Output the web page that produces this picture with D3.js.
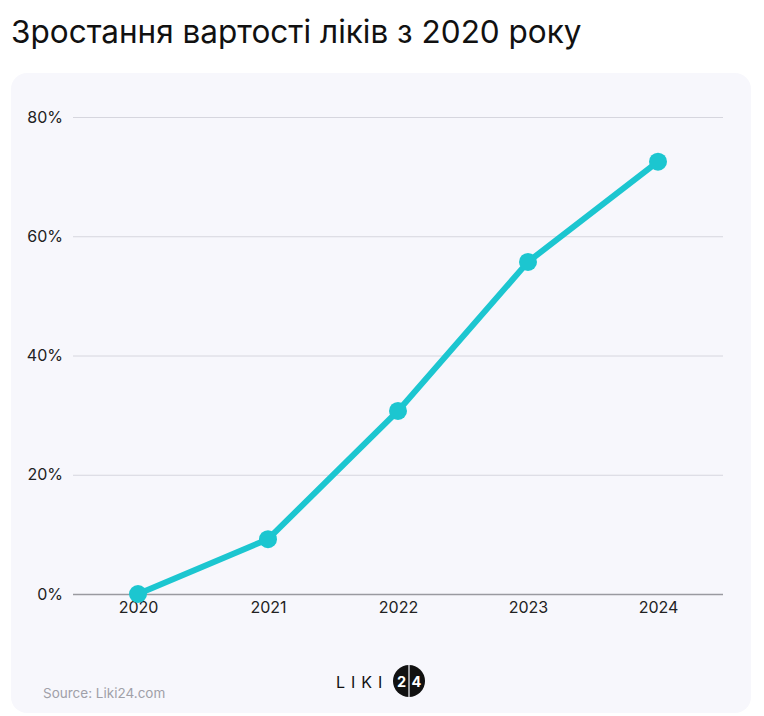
<!DOCTYPE html>
<html>
<head>
<meta charset="utf-8">
<script src="https://cdn.jsdelivr.net/npm/d3@7"></script>
<style>
  body { margin: 0; background: #fff; }
  svg { display: block; font-family: Inter, "Noto Sans", sans-serif; }
</style>
</head>
<body>
<svg id="chart" width="764" height="716"></svg>
<script>
// chart data
var years = ['2020', '2021', '2022', '2023', '2024'];
var growth = [0, 9.2, 30.7, 55.7, 72.5];
var yTicks = [0, 20, 40, 60, 80];

var svg = d3.select('#chart'),
    lineColor = '#1cc6d0',
    margin = {left: 73, right: 40, top: 117, bottom: 122},
    width = 764, height = 716;

// title
svg.append('text')
    .attr('x', 11).attr('y', 43)
    .attr('font-size', 31.5).attr('fill', '#111')
    .text('Зростання вартості ліків з 2020 року');

// card background
svg.append('rect')
    .attr('x', 11).attr('y', 73)
    .attr('width', 740).attr('height', 640)
    .attr('rx', 16)
    .attr('fill', '#f7f7fc');

var x = d3.scalePoint()
    .domain(years)
    .range([margin.left, width - margin.right - 1])
    .padding(0.5);

var y = d3.scaleLinear()
    .domain([0, 80])
    .range([height - margin.bottom, margin.top]);

// gridlines + y labels
var yAxis = svg.append('g')
    .attr('transform', 'translate(' + margin.left + ',0)')
    .call(d3.axisLeft(y).tickValues(yTicks)
        .tickSize(-(width - margin.right - margin.left - 1))
        .tickPadding(10)
        .tickFormat(function (d) { return d + '%'; }));
yAxis.select('.domain').remove();
yAxis.selectAll('.tick line')
    .attr('stroke', function (d) { return d === 0 ? '#9a9aa0' : '#d6d6de'; })
    .attr('stroke-width', function (d) { return d === 0 ? 1.5 : 1; });
yAxis.selectAll('.tick text')
    .attr('font-size', 16).attr('fill', '#222')
    .attr('font-family', 'Inter, "Noto Sans", sans-serif');

// x labels
var xAxis = svg.append('g')
    .attr('transform', 'translate(0,' + y(0) + ')')
    .call(d3.axisBottom(x).tickSize(0).tickPadding(8));
xAxis.select('.domain').remove();
xAxis.selectAll('.tick text')
    .attr('font-size', 16).attr('fill', '#222')
    .attr('font-family', 'Inter, "Noto Sans", sans-serif');

// line
var line = d3.line()
    .x(function (d, i) { return x(years[i]); })
    .y(function (d) { return y(d); });

svg.append('path')
    .datum(growth)
    .attr('d', line)
    .attr('fill', 'none')
    .attr('stroke', lineColor)
    .attr('stroke-width', 6)
    .attr('stroke-linejoin', 'round');

svg.selectAll('.dot')
    .data(growth)
    .enter().append('circle')
    .attr('class', 'dot')
    .attr('cx', function (d, i) { return x(years[i]); })
    .attr('cy', function (d) { return y(d); })
    .attr('r', 9)
    .attr('fill', lineColor);

// source
svg.append('text')
    .attr('x', 43).attr('y', 698)
    .attr('font-size', 13.5).attr('fill', '#a0a0a8')
    .text('Source: Liki24.com');

// logo
var logo = svg.append('g');
logo.append('text')
    .attr('x', 336).attr('y', 688)
    .attr('font-size', 16).attr('fill', '#111')
    .attr('letter-spacing', 6)
    .text('LIKI');
logo.append('circle')
    .attr('cx', 409).attr('cy', 681).attr('r', 16)
    .attr('fill', '#111');
logo.append('line')
    .attr('x1', 409).attr('x2', 409)
    .attr('y1', 665).attr('y2', 697)
    .attr('stroke', '#f7f7fc').attr('stroke-width', 1.2);
logo.append('text')
    .attr('x', 401.5).attr('y', 687)
    .attr('text-anchor', 'middle')
    .attr('font-size', 14.5).attr('font-weight', 700).attr('fill', '#fff')
    .text('2');
logo.append('text')
    .attr('x', 416.5).attr('y', 687)
    .attr('text-anchor', 'middle')
    .attr('font-size', 14.5).attr('font-weight', 700).attr('fill', '#fff')
    .text('4');
</script>
</body>
</html>
